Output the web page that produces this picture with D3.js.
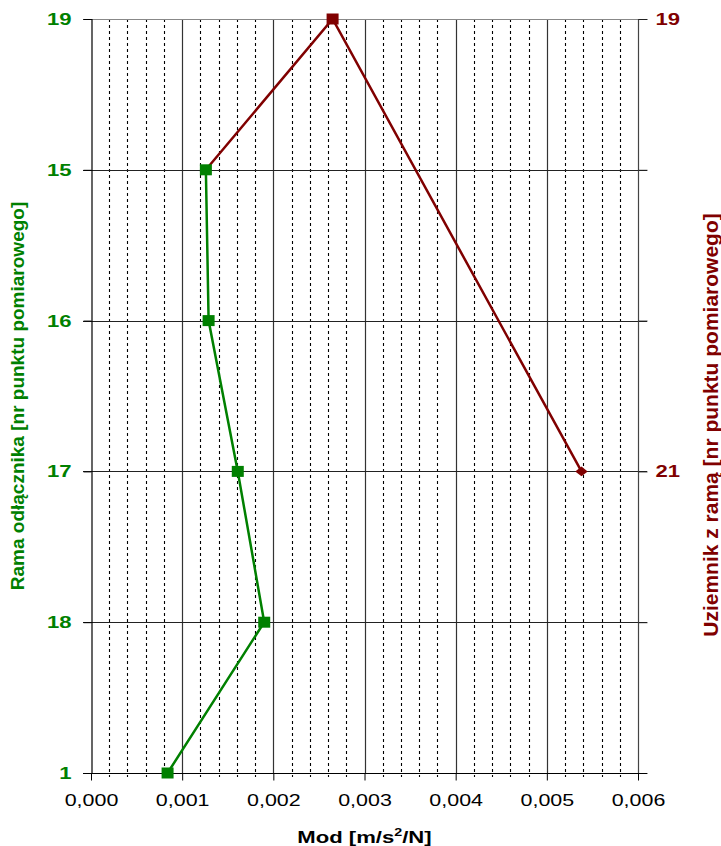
<!DOCTYPE html>
<html>
<head>
<meta charset="utf-8">
<script src="https://cdn.jsdelivr.net/npm/d3@7"></script>
<style>
  html, body { margin: 0; padding: 0; background: #fff; }
  svg { display: block; font-family: "Liberation Sans", Arial, sans-serif; }
</style>
</head>
<body>
<svg id="chart" width="721" height="846"></svg>
<script>
// Row labels on the left (green) and right (dark red) category axes
const leftTicks = ["19", "15", "16", "17", "18", "1"];
const rightTicks = ["19", "", "", "21", "", ""];

// Rama odłącznika: measuring points and their values
const greenRows = ["15", "16", "17", "18", "1"];
const greenValues = [0.00126, 0.00129, 0.00161, 0.0019, 0.00084];

// Uziemnik z ramą: row index of each point and its value
const redRows = [1, 0, 3];
const redValues = [0.00126, 0.00265, 0.00538];

// X axis ticks
const xMajorTicks = [0, 0.001, 0.002, 0.003, 0.004, 0.005, 0.006];
const xMinorStep = 0.0002;

const GREEN = "#008000";
const RED = "#800000";
const TEXT_SX = 1.3; // horizontal stretch of horizontal labels

const svg = d3.select("#chart");
const plot = { left: 91, right: 638, top: 19, bottom: 773 };

const x = d3.scaleLinear().domain([0, 0.006]).range([plot.left, plot.right]);
const y = d3.scalePoint().domain(d3.range(leftTicks.length)).range([plot.top, plot.bottom]);
const yLeft = i => y(leftTicks.indexOf(i));

const minorTicks = d3.range(0, 0.006 + 1e-9, xMinorStep)
  .filter(v => Math.abs(v / 0.001 - Math.round(v / 0.001)) > 1e-6);

// Minor vertical gridlines (dotted)
svg.append("g").selectAll("line").data(minorTicks).join("line")
  .attr("x1", d => Math.round(x(d)) + 0.5).attr("x2", d => Math.round(x(d)) + 0.5)
  .attr("y1", plot.top).attr("y2", plot.bottom + 4)
  .attr("stroke", "#000").attr("stroke-width", 1.1).attr("stroke-dasharray", "3,3");

// Major vertical gridlines
svg.append("g").selectAll("line").data(xMajorTicks.slice(1, -1)).join("line")
  .attr("x1", d => Math.round(x(d)) + 0.5).attr("x2", d => Math.round(x(d)) + 0.5)
  .attr("y1", plot.top).attr("y2", plot.bottom)
  .attr("stroke", "#333").attr("stroke-width", 1.2);

// Horizontal gridlines at each row
svg.append("g").selectAll("line").data(d3.range(1, leftTicks.length - 1)).join("line")
  .attr("x1", plot.left - 8).attr("x2", plot.right + 9)
  .attr("y1", d => Math.round(y(d)) + 0.5).attr("y2", d => Math.round(y(d)) + 0.5)
  .attr("stroke", "#222").attr("stroke-width", 1.2);

// Frame: top border, right border
svg.append("line").attr("x1", plot.left - 8).attr("x2", plot.right + 9)
  .attr("y1", plot.top + 0.5).attr("y2", plot.top + 0.5)
  .attr("stroke", "#888").attr("stroke-width", 1.2);
svg.append("line").attr("x1", plot.right + 0.5).attr("x2", plot.right + 0.5)
  .attr("y1", plot.top).attr("y2", plot.bottom)
  .attr("stroke", "#444").attr("stroke-width", 1.2);

// Left axis
const leftAxis = svg.append("g").attr("transform", `translate(${plot.left + 0.5},0)`)
  .call(d3.axisLeft(y).tickFormat(i => leftTicks[i]).tickSize(8).tickPadding(12));
leftAxis.select(".domain").attr("stroke", "#000").attr("stroke-width", 1.2);
leftAxis.selectAll(".tick line").attr("stroke", "#000");
leftAxis.selectAll(".tick text")
  .attr("fill", GREEN).attr("font-size", 17).attr("font-weight", "bold")
  .attr("font-family", "Liberation Sans, Arial, sans-serif")
  .attr("x", -20 / TEXT_SX)
  .attr("transform", `scale(${TEXT_SX},1)`);

// Right axis
const rightAxis = svg.append("g").attr("transform", `translate(${plot.right + 0.5},0)`)
  .call(d3.axisRight(y).tickFormat(i => rightTicks[i]).tickSize(9));
rightAxis.select(".domain").remove();
rightAxis.selectAll(".tick line").attr("stroke", "#222");
rightAxis.selectAll(".tick text")
  .attr("fill", RED).attr("font-size", 17).attr("font-weight", "bold")
  .attr("font-family", "Liberation Sans, Arial, sans-serif")
  .attr("x", 17 / TEXT_SX)
  .attr("transform", `scale(${TEXT_SX},1)`);

// Bottom axis
const bottomAxis = svg.append("g").attr("transform", `translate(0,${plot.bottom + 0.5})`)
  .call(d3.axisBottom(x).tickValues(xMajorTicks)
    .tickFormat(d => d3.format(".3f")(d).replace(".", ",")).tickSize(7).tickPadding(14));
bottomAxis.select(".domain").attr("stroke", "#000").attr("stroke-width", 1.2)
  .attr("d", `M${plot.left - 8},0H${plot.right + 9}`);
bottomAxis.selectAll(".tick line").attr("stroke", "#000");
bottomAxis.selectAll(".tick text")
  .attr("fill", "#000").attr("font-size", 16.5)
  .attr("font-family", "Liberation Sans, Arial, sans-serif")
  .attr("transform", `scale(${TEXT_SX},1)`);

// X axis title
const xt = svg.append("text")
  .attr("transform", `translate(${(plot.left + plot.right) / 2},843) scale(${TEXT_SX},1)`)
  .attr("text-anchor", "middle").attr("font-size", 17).attr("font-weight", "bold").attr("fill", "#000");
xt.append("tspan").text("Mod [m/s");
xt.append("tspan").text("2").attr("font-size", 11).attr("dy", -7);
xt.append("tspan").text("/N]").attr("dy", 7);

// Y axis titles
svg.append("text")
  .attr("transform", `translate(24,${(plot.top + plot.bottom) / 2}) rotate(-90)`)
  .attr("text-anchor", "middle").attr("font-size", 19).attr("font-weight", "bold").attr("fill", GREEN)
  .text("Rama odłącznika [nr punktu pomiarowego]");
svg.append("text")
  .attr("transform", `translate(718,425) rotate(-90)`)
  .attr("text-anchor", "middle").attr("font-size", 21).attr("font-weight", "bold").attr("fill", RED)
  .text("Uziemnik z ramą [nr punktu pomiarowego]");

// Series lines
const line = d3.line();
const redPts = redRows.map((r, i) => [x(redValues[i]), y(r)]);
const greenPts = greenRows.map((r, i) => [x(greenValues[i]), yLeft(r)]);

svg.append("path").attr("d", line(redPts))
  .attr("fill", "none").attr("stroke", RED).attr("stroke-width", 2.5);
svg.append("path").attr("d", line(greenPts))
  .attr("fill", "none").attr("stroke", GREEN).attr("stroke-width", 2.5);

// Markers
svg.append("g").selectAll("rect").data(greenPts).join("rect")
  .attr("x", d => d[0] - 6).attr("y", d => d[1] - 5.5)
  .attr("width", 12).attr("height", 11).attr("fill", GREEN);

const redMarkers = svg.append("g");
redMarkers.append("rect")
  .attr("x", redPts[1][0] - 6).attr("y", redPts[1][1] - 5.5)
  .attr("width", 12).attr("height", 11).attr("fill", RED);
redMarkers.append("path")
  .attr("d", d3.symbol(d3.symbolDiamond2, 75)())
  .attr("transform", `translate(${redPts[2][0]},${redPts[2][1]}) scale(1.15,0.9)`)
  .attr("fill", RED);
</script>
</body>
</html>
